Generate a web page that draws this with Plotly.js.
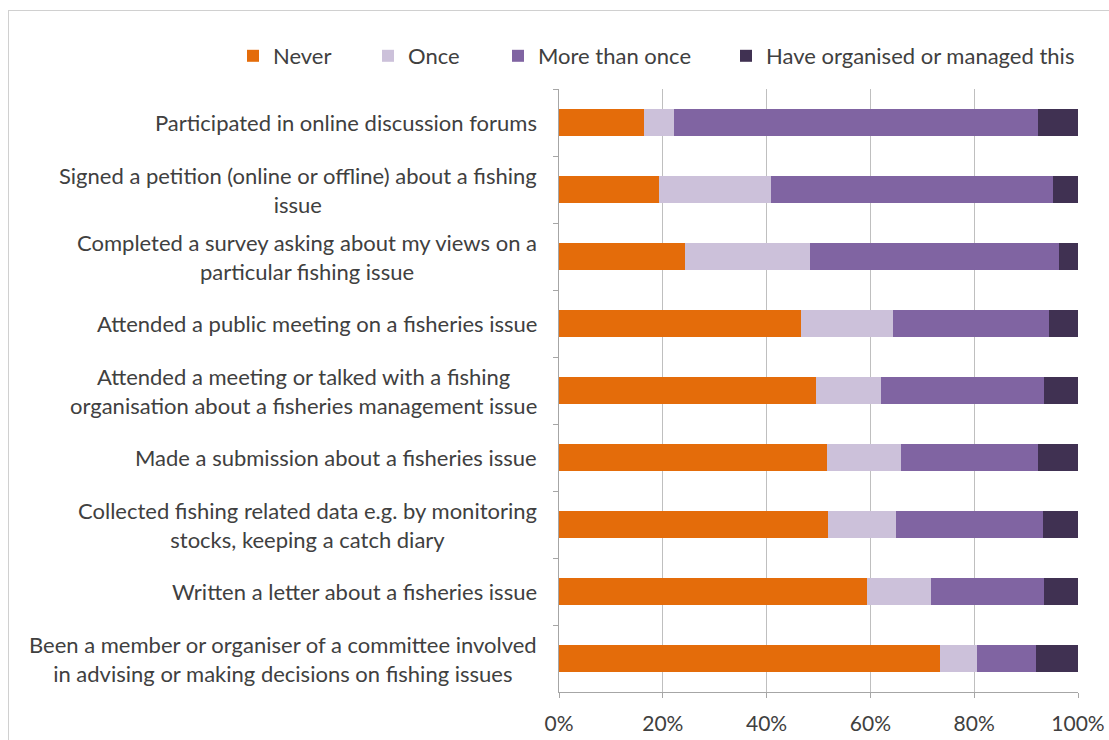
<!DOCTYPE html>
<html>
<head>
<meta charset="utf-8">
<script src="https://cdn.plot.ly/plotly-3.0.1.min.js"></script>
<style>
  html, body { margin: 0; padding: 0; background: #ffffff; }
  #wrap { position: relative; width: 1109px; height: 740px; overflow: hidden; }
  #frame { position: absolute; left: 8px; top: 10px; width: 1200px; height: 800px;
           border-left: 1px solid #d0d0d0; border-top: 1px solid #d0d0d0; pointer-events: none; }
  #chart { position: absolute; left: 0; top: 0; width: 1109px; height: 740px; }
</style>
</head>
<body>
<div id="wrap">
  <div id="chart"></div>
  <div id="frame"></div>
</div>
<script>
// Activities, listed top to bottom
const activities = [
  "Participated in online discussion forums",
  "Signed a petition (online or offline) about a fishing<br>issue",
  "Completed a survey asking about my views on a<br>particular fishing issue",
  "Attended a public meeting on a fisheries issue",
  "Attended a meeting or talked with a fishing<br>organisation about a fisheries management issue",
  "Made a submission about a fisheries issue",
  "Collected fishing related data e.g. by monitoring<br>stocks, keeping a catch diary",
  "Written a letter about a fisheries issue",
  "Been a member or organiser of a committee involved<br>in advising or making decisions on fishing issues"
];

// Share of respondents (%) per response
const never     = [16.4, 19.3, 24.3, 46.6, 49.6, 51.6, 51.9, 59.3, 73.4];
const once      = [ 5.8, 21.5, 24.0, 17.8, 12.4, 14.3, 13.0, 12.3,  7.1];
const moreOnce  = [70.0, 54.4, 48.0, 30.0, 31.5, 26.3, 28.4, 21.9, 11.5];
const organised = [ 7.8,  4.8,  3.7,  5.6,  6.5,  7.8,  6.7,  6.5,  8.0];

const seriesNames = ["Never", "Once", "More than once", "Have organised or managed this"];
const xTicks = [0, 20, 40, 60, 80, 100];
const xTickText = ["0%", "20%", "40%", "60%", "80%", "100%"];

const colors = ["#E46C0A", "#CCC1DA", "#8064A2", "#403152"];
const legendX = [233, 368, 498, 726];   // left edge of each legend entry, px
const FONT = "Lato, 'Open Sans', sans-serif";
const TEXT = "#404040";

const values = [never, once, moreOnce, organised];
const legendIds = ["legend", "legend2", "legend3", "legend4"];

const traces = values.map((v, i) => ({
  type: "bar",
  orientation: "h",
  name: seriesNames[i],
  x: v,
  y: activities,
  marker: { color: colors[i], line: { width: 0 } },
  legend: legendIds[i],
  hoverinfo: "x+name"
}));

const layout = {
  width: 1109,
  height: 740,
  margin: { l: 559, r: 31, t: 89, b: 48 },
  paper_bgcolor: "rgba(0,0,0,0)",
  plot_bgcolor: "rgba(0,0,0,0)",
  barmode: "stack",
  bargap: 0.59,
  showlegend: true,
  font: { family: FONT, size: 20, color: TEXT },
  xaxis: {
    range: [0, 100],
    tickvals: xTicks,
    ticktext: xTickText,
    showgrid: true,
    gridcolor: "#BFBFBF",
    gridwidth: 1,
    zeroline: false,
    showline: true,
    linecolor: "#A6A6A6",
    ticks: "outside",
    ticklen: 5,
    tickcolor: "#A6A6A6",
    ticklabelstandoff: 8,
    tickfont: { family: FONT, size: 21, color: TEXT },
    fixedrange: true
  },
  yaxis: {
    type: "category",
    autorange: "reversed",
    showticklabels: false,
    showgrid: false,
    zeroline: false,
    showline: true,
    linecolor: "#A6A6A6",
    ticks: "outside",
    tickson: "boundaries",
    ticklen: 5,
    tickcolor: "#A6A6A6",
    fixedrange: true
  },
  // Category labels: right edge near the axis, lines centred on each other
  annotations: activities.map(a => ({
    xref: "paper",
    yref: "y",
    x: 0,
    y: a,
    xanchor: "right",
    yanchor: "middle",
    xshift: -20,
    align: "center",
    showarrow: false,
    text: a,
    font: { family: FONT, size: 22, color: TEXT }
  }))
};

legendIds.forEach((id, i) => {
  layout[id] = {
    xref: "container",
    yref: "container",
    x: legendX[i] / 1109,
    y: 1 - 56 / 740,
    xanchor: "left",
    yanchor: "middle",
    orientation: "h",
    bgcolor: "rgba(0,0,0,0)",
    itemwidth: 30,
    font: { family: FONT, size: 22, color: TEXT }
  };
});

Plotly.newPlot("chart", traces, layout, { displayModeBar: false, staticPlot: true });
</script>
</body>
</html>
